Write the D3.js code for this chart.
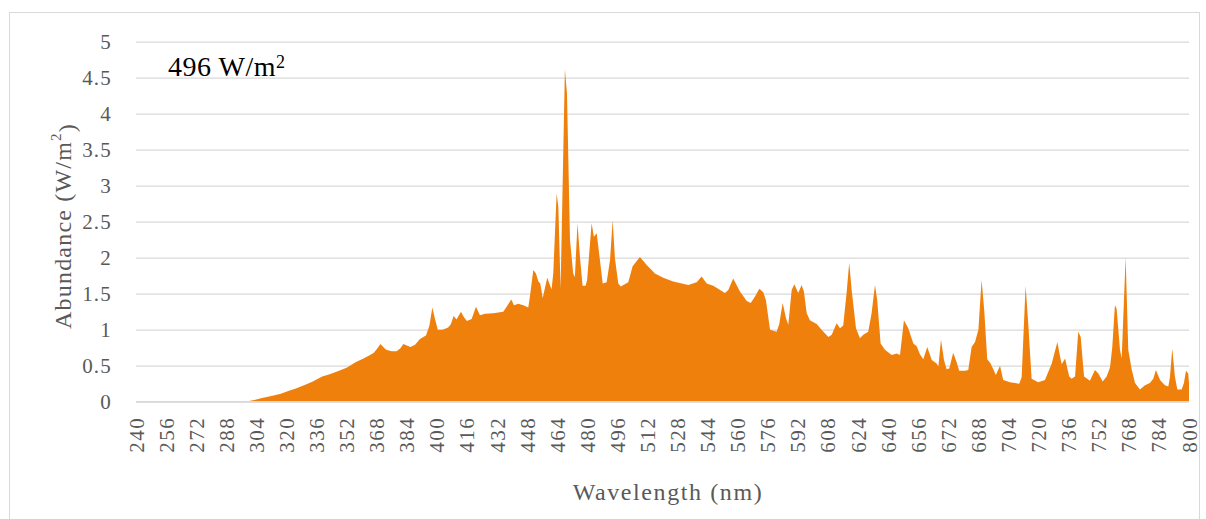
<!DOCTYPE html>
<html>
<head>
<meta charset="utf-8">
<script src="https://cdn.jsdelivr.net/npm/d3@7"></script>
<style>
  html, body { margin: 0; padding: 0; background: #ffffff; }
  svg { display: block; }
</style>
</head>
<body>
<svg id="chart" width="1206" height="519"></svg>
<script>
// Solar spectral irradiance, wavelength in nm
const wavelengths = [
  240, 290, 296, 298, 300, 303, 307, 312, 317, 321, 325, 330, 334, 339, 343, 348, 352, 357, 361, 364,
  366.5, 368, 370, 371.5, 373, 376, 378.5, 380.5, 382.2, 384, 386, 388.4, 391, 394.2, 396, 397.6, 399, 400.5, 403, 406,
  407.5, 408.9, 410.5, 412.8, 414.5, 416, 418.5, 420.8, 422.9, 425.6, 430, 435.3, 437.1, 439.6, 441, 443.3, 446, 448.6, 449.5, 451.3,
  452.7, 454, 455, 456.3, 458.7, 461, 461.9, 463.7, 464.6, 465.8, 468.1, 469.2, 470.8, 472.5, 473.4, 474.8, 476.1, 477.5, 479.1, 479.9,
  482.3, 483.5, 485, 486.8, 488.2, 490.3, 492.1, 493.5, 494.7, 496.5, 497.8, 501.8, 504.1, 508, 511.6, 516, 520.4, 525.7, 533.7, 538.2,
  540.8, 543.5, 547, 553.2, 555, 557.6, 561.2, 564.8, 566.9, 569.2, 571.5, 573.6, 575, 577.2, 580.7, 582.1, 583.9, 585.7, 586.9, 588.7,
  590.1, 592.2, 594, 595.2, 596.7, 598.4, 602, 604.6, 608.2, 610, 612.6, 614.4, 616.1, 617.9, 619.3, 620.6, 622.9, 625, 626.8, 629.4,
  631.2, 633, 634.2, 636, 638.3, 641.9, 644.5, 646.3, 648.4, 650.7, 653.4, 655.2, 656.9, 658.7, 660.8, 663.2, 665.8, 666.7, 668.1, 669.7,
  671.1, 672.5, 674.6, 676.4, 677.8, 680.9, 682.6, 684.4, 686.2, 688, 689.7, 691.1, 692.7, 694.5, 697.3, 699.5, 701.2, 704.8, 707.4, 709.7,
  711, 713.1, 714.5, 716.3, 719.8, 723.4, 727, 730, 731.4, 732.3, 734.1, 736.3, 737.6, 739.4, 741.1, 742.4, 744.2, 747.3, 750, 751.8,
  754.1, 756.2, 758, 759.2, 760.6, 761.5, 763.3, 764.2, 766.3, 767.7, 769.5, 771.3, 773.9, 776.6, 779.2, 781, 782.4, 784.6, 787.2, 789,
  789.9, 791.1, 792.5, 793.8, 796.1, 797.3, 798.4, 799.6, 800
];

// Abundance in W/m²
const abundance = [
  0, 0, 0, 0.005, 0.01, 0.025, 0.05, 0.08, 0.11, 0.15, 0.185, 0.235, 0.28, 0.35, 0.38, 0.43, 0.47, 0.55, 0.60, 0.64,
  0.68, 0.73, 0.80, 0.76, 0.72, 0.70, 0.70, 0.74, 0.80, 0.78, 0.76, 0.79, 0.87, 0.92, 1.05, 1.31, 1.15, 1.0, 1.0, 1.03,
  1.08, 1.19, 1.14, 1.25, 1.17, 1.12, 1.15, 1.32, 1.20, 1.22, 1.23, 1.25, 1.32, 1.42, 1.34, 1.36, 1.34, 1.31, 1.46, 1.83,
  1.78, 1.67, 1.64, 1.44, 1.72, 1.56, 1.78, 2.89, 2.71, 1.57, 4.62, 4.28, 2.25, 1.78, 1.73, 2.48, 2.01, 1.61, 1.61, 1.69,
  2.48, 2.29, 2.34, 1.95, 1.64, 1.66, 1.97, 2.52, 1.99, 1.64, 1.60, 1.66, 1.88, 2.01, 1.90, 1.78, 1.72, 1.67, 1.62, 1.66,
  1.74, 1.64, 1.61, 1.51, 1.55, 1.71, 1.53, 1.40, 1.37, 1.46, 1.57, 1.52, 1.41, 1.0, 0.97, 1.08, 1.37, 1.16, 1.07, 1.55,
  1.63, 1.51, 1.62, 1.53, 1.23, 1.13, 1.08, 1.0, 0.90, 0.93, 1.09, 1.02, 1.06, 1.51, 1.93, 1.55, 1.02, 0.88, 0.93, 0.97,
  1.23, 1.62, 1.41, 0.81, 0.72, 0.65, 0.67, 0.65, 1.13, 1.02, 0.81, 0.77, 0.66, 0.59, 0.76, 0.58, 0.53, 0.49, 0.86, 0.58,
  0.45, 0.46, 0.68, 0.55, 0.43, 0.43, 0.44, 0.76, 0.83, 1.0, 1.69, 1.27, 0.59, 0.53, 0.37, 0.50, 0.30, 0.27, 0.26, 0.25,
  0.34, 1.61, 1.09, 0.32, 0.27, 0.30, 0.53, 0.83, 0.63, 0.52, 0.60, 0.35, 0.32, 0.35, 0.97, 0.90, 0.35, 0.29, 0.44, 0.39,
  0.28, 0.35, 0.48, 0.76, 1.34, 1.29, 0.72, 0.60, 2.01, 0.72, 0.45, 0.26, 0.17, 0.23, 0.26, 0.32, 0.44, 0.30, 0.23, 0.21,
  0.35, 0.74, 0.35, 0.17, 0.17, 0.26, 0.43, 0.39, 0.26
];

const xTicks = d3.range(240, 801, 16);
const yTicks = [0, 0.5, 1, 1.5, 2, 2.5, 3, 3.5, 4, 4.5, 5];

const data = wavelengths.map((w, i) => ({ w, v: abundance[i] }));

const SERIF = "'Liberation Serif', 'Times New Roman', serif";
const svg = d3.select("#chart");
const plot = { left: 136, right: 1189, top: 41.7, bottom: 401.7 };

// Chart frame
svg.append("rect")
  .attr("x", 9.5).attr("y", 12.5)
  .attr("width", 1190).attr("height", 512)
  .attr("fill", "none")
  .attr("stroke", "#d9d9d9")
  .attr("stroke-width", 1);

const x = d3.scaleLinear().domain([240, 800]).range([plot.left, plot.right]);
const y = d3.scaleLinear().domain([0, 5]).range([plot.bottom, plot.top]);

// Horizontal gridlines with value labels
const yAxis = svg.append("g")
  .attr("transform", `translate(${plot.left},0)`)
  .call(d3.axisLeft(y).tickValues(yTicks).tickFormat(d => String(d))
    .tickSizeInner(-(plot.right - plot.left)).tickSizeOuter(0).tickPadding(24));
yAxis.select(".domain").remove();
yAxis.selectAll(".tick line").attr("stroke", "#d9d9d9").attr("stroke-width", 1.3);
yAxis.selectAll(".tick text")
  .attr("fill", "#595959")
  .style("font-family", SERIF)
  .style("font-size", "21px")
  .style("letter-spacing", "1.2px")
  .attr("dy", "0.34em");

// Filled spectrum
const area = d3.area()
  .x(d => x(d.w))
  .y0(y(0))
  .y1(d => y(d.v))
  .curve(d3.curveLinear);

svg.append("path")
  .datum(data)
  .attr("d", area)
  .attr("fill", "#ef800c");

// Baseline
svg.append("line")
  .attr("x1", plot.left).attr("x2", plot.right)
  .attr("y1", y(0)).attr("y2", y(0))
  .attr("stroke", "#d9d9d9").attr("stroke-width", 1.5);

// Wavelength labels, rotated
const xAxis = svg.append("g")
  .attr("transform", `translate(0,${plot.bottom})`)
  .call(d3.axisBottom(x).tickValues(xTicks).tickFormat(d => String(d)).tickSize(0));
xAxis.select(".domain").remove();
xAxis.selectAll(".tick text")
  .attr("fill", "#595959")
  .style("font-family", SERIF)
  .style("font-size", "21px")
  .style("letter-spacing", "1.5px")
  .attr("text-anchor", "end")
  .attr("dominant-baseline", "central")
  .attr("y", 0).attr("dy", null)
  .attr("transform", "translate(0,15) rotate(-90)");

// Axis titles
const yTitle = svg.append("text")
  .attr("transform", "translate(63,226) rotate(-90)")
  .attr("text-anchor", "middle")
  .attr("dominant-baseline", "central")
  .attr("fill", "#595959")
  .style("font-family", SERIF)
  .style("font-size", "24px")
  .style("letter-spacing", "1.2px");
yTitle.append("tspan").text("Abundance (W/m");
yTitle.append("tspan").attr("dy", "-0.45em").style("font-size", "15px").text("2");
yTitle.append("tspan").attr("dy", "0.45em").text(")");

svg.append("text")
  .attr("x", 668).attr("y", 500)
  .attr("text-anchor", "middle")
  .attr("fill", "#595959")
  .style("font-family", SERIF)
  .style("font-size", "24px")
  .style("letter-spacing", "1.6px")
  .text("Wavelength (nm)");

// Total irradiance annotation
const note = svg.append("text")
  .attr("x", 168).attr("y", 76)
  .attr("fill", "#000000")
  .style("font-family", SERIF)
  .style("font-size", "28px")
  .style("letter-spacing", "0.5px");
note.append("tspan").text("496 W/m");
note.append("tspan").attr("dy", "-0.45em").style("font-size", "18px").text("2");
</script>
</body>
</html>
